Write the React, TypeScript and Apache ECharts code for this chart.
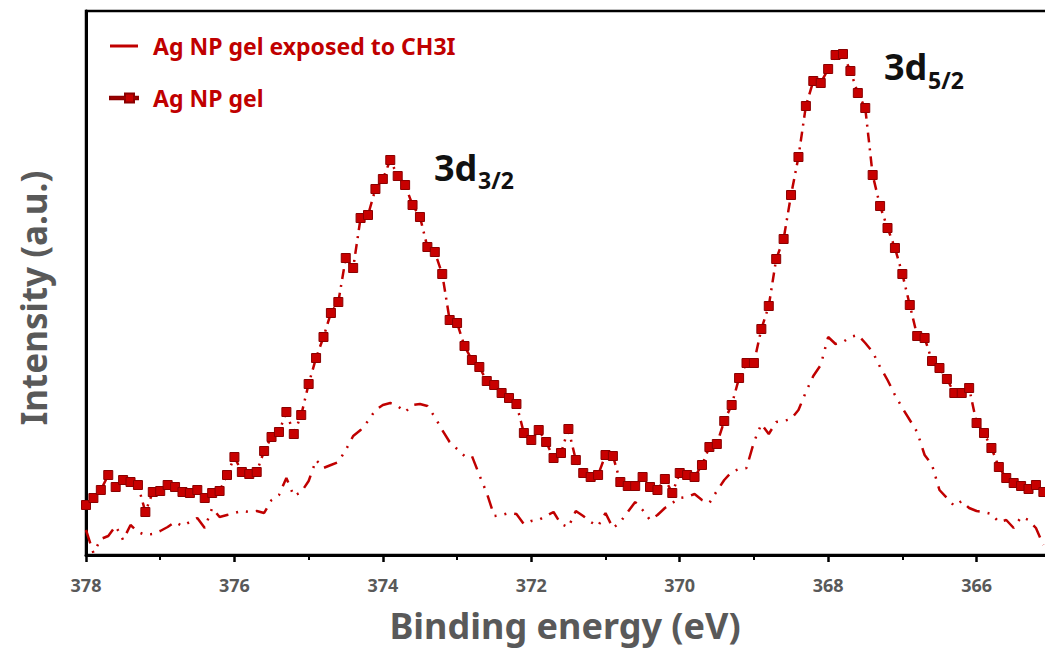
import React, { useEffect, useRef } from "react";
import * as echarts from "echarts";

// Binding energy grid: 378.0 eV down to 365.1 eV, 0.1 eV step (instrument grid)
const E_START = 378.0;
const E_STEP = 0.1;

// Ag NP gel (squares, dash-dot line), arbitrary intensity units
const agNpGel = [
  50, 57, 65, 80, 68, 75, 73, 70, 43, 63,
  64, 70, 68, 63, 62, 65, 57, 62, 64, 80,
  98, 83, 81, 83, 104, 118, 123, 143, 121, 140,
  171, 197, 218, 242, 253, 297, 287, 337, 340, 366,
  376, 395, 379, 370, 350, 338, 308, 303, 281, 235,
  232, 209, 195, 188, 174, 170, 162, 157, 151, 122,
  115, 125, 113, 97, 102, 126, 95, 82, 78, 80,
  100, 99, 73, 69, 69, 78, 68, 65, 76, 62,
  82, 80, 78, 90, 108, 111, 134, 150, 177, 192,
  192, 226, 249, 296, 316, 360, 398, 449, 474, 472,
  486, 500, 501, 484, 462, 447, 380, 349, 327, 307,
  281, 250, 219, 217, 194, 187, 176, 162, 162, 167,
  132, 122, 107, 88, 77, 72, 69, 66, 70, 63,
];

// Ag NP gel exposed to CH3I (dash-dot-dot line)
const agNpGelCH3I = [
  25, 2, 16, 19, 29, 15, 30, 23, 20, 21,
  24, 28, 33, 29, 33, 37, 27, 47, 38, 40,
  42, 44, 43, 44, 42, 55, 60, 77, 59, 63,
  74, 95, 87, 90, 93, 105, 119, 125, 134, 145,
  150, 152, 149, 143, 150, 151, 149, 138, 125, 113,
  106, 99, 99, 80, 62, 39, 40, 42, 41, 31,
  34, 35, 39, 43, 31, 28, 44, 39, 33, 29,
  42, 27, 33, 43, 53, 45, 35, 40, 47, 52,
  57, 58, 61, 55, 52, 64, 75, 83, 86, 87,
  113, 131, 121, 133, 134, 136, 145, 163, 179, 190,
  218, 211, 213, 218, 220, 212, 203, 188, 175, 160,
  147, 135, 123, 100, 90, 65, 57, 49, 54, 47,
  44, 43, 41, 33, 35, 27, 38, 35, 27, 10,
];

const seriesNames = ["Ag NP gel exposed to CH3I", "Ag NP gel"];
const annotations = [
  { main: "3d", sub: "3/2" },
  { main: "3d", sub: "5/2" },
];

const RED = "#C00000";
const GRAY = "#595959";
const FONT = "'Noto Sans', 'DejaVu Sans', sans-serif";

const energyAt = (i: number) => +(E_START - i * E_STEP).toFixed(1);

export default function App() {
  const ref = useRef<HTMLDivElement>(null);
  useEffect(() => {
    if (!ref.current) return;
    const chart = echarts.init(ref.current, null, { renderer: "svg" });
    const s1 = agNpGel.map((v, i) => [energyAt(i), v]);
    const s2 = agNpGelCH3I.map((v, i) => [energyAt(i), v]);
    chart.setOption({
      animation: false,
      backgroundColor: "#fff",
      grid: {
        left: 86,
        top: 11,
        right: 0,
        bottom: 95,
        outerBoundsMode: "none",
        containLabel: false,
        show: true,
        borderColor: "#000",
        borderWidth: 2.5,
        backgroundColor: "transparent",
      },
      legend: {
        orient: "vertical",
        left: 104,
        top: 26,
        itemGap: 22,
        itemWidth: 28,
        itemHeight: 10,
        data: [
          { name: seriesNames[0], icon: "path://M0,3.5H28V6.5H0Z" },
          { name: seriesNames[1], icon: "path://M0,3.8H15V0.5H24V3.8H28V6.2H24V9.5H15V6.2H0Z" },
        ],
        textStyle: {
          color: RED,
          fontFamily: FONT,
          fontWeight: "bold",
          fontSize: 23,
          lineHeight: 30,
          padding: [0, 0, 0, 10],
        },
      },
      xAxis: {
        type: "value",
        min: 364,
        max: 378,
        interval: 2,
        inverse: true,
        axisLine: { show: true, lineStyle: { color: "#000", width: 3 } },
        axisTick: { show: true, length: 7, lineStyle: { color: "#000", width: 2.5 } },
        minorTick: { show: true, splitNumber: 2, length: 5, lineStyle: { color: "#000", width: 2 } },
        splitLine: { show: false },
        minorSplitLine: { show: false },
        axisLabel: {
          color: GRAY,
          fontFamily: FONT,
          fontWeight: "bold",
          fontSize: 18,
          margin: 21,
          showMinLabel: false,
          formatter: (v: number) => (v < 365 ? "" : String(v)),
        },
      },
      yAxis: {
        type: "value",
        min: 0,
        max: 544,
        axisLine: { show: true, lineStyle: { color: "#000", width: 3 } },
        axisTick: { show: false },
        axisLabel: { show: false },
        splitLine: { show: false },
      },
      series: [
        {
          name: seriesNames[0],
          type: "line",
          data: s2,
          showSymbol: false,
          symbol: "none",
          lineStyle: { color: RED, width: 2.5, type: [14, 8, 2, 8, 2, 8] },
          itemStyle: { color: RED },
          z: 2,
        },
        {
          name: seriesNames[1],
          type: "line",
          data: s1,
          symbol: "rect",
          symbolSize: 9,
          lineStyle: { color: RED, width: 2.5, type: [10, 6, 2, 6] },
          itemStyle: { color: "#C80000", borderColor: "#8A0000", borderWidth: 1 },
          z: 3,
        },
      ],
      graphic: [
        {
          type: "text",
          x: 565,
          y: 625,
          style: {
            text: "Binding energy (eV)",
            align: "center",
            verticalAlign: "middle",
            fill: GRAY,
            font: `bold 36px ${FONT}`,
          },
        },
        {
          type: "text",
          x: 33,
          y: 298,
          rotation: Math.PI / 2,
          style: {
            text: "Intensity (a.u.)",
            align: "center",
            verticalAlign: "middle",
            fill: GRAY,
            font: `bold 35px ${FONT}`,
          },
        },
        {
          type: "text",
          x: 434,
          y: 167,
          style: { text: annotations[0].main, align: "left", verticalAlign: "middle", fill: "#111", font: `bold 36px ${FONT}` },
        },
        {
          type: "text",
          x: 478,
          y: 180,
          style: { text: annotations[0].sub, align: "left", verticalAlign: "middle", fill: "#111", font: `bold 23px ${FONT}` },
        },
        {
          type: "text",
          x: 884,
          y: 66,
          style: { text: annotations[1].main, align: "left", verticalAlign: "middle", fill: "#111", font: `bold 36px ${FONT}` },
        },
        {
          type: "text",
          x: 928,
          y: 80,
          style: { text: annotations[1].sub, align: "left", verticalAlign: "middle", fill: "#111", font: `bold 23px ${FONT}` },
        },
      ],
    });
    return () => chart.dispose();
  }, []);
  return (
    <div style={{ position: "absolute", left: 0, top: 0, width: 1045, height: 650, overflow: "hidden" }}>
      <div ref={ref} style={{ width: 1125, height: 650 }} />
    </div>
  );
}
